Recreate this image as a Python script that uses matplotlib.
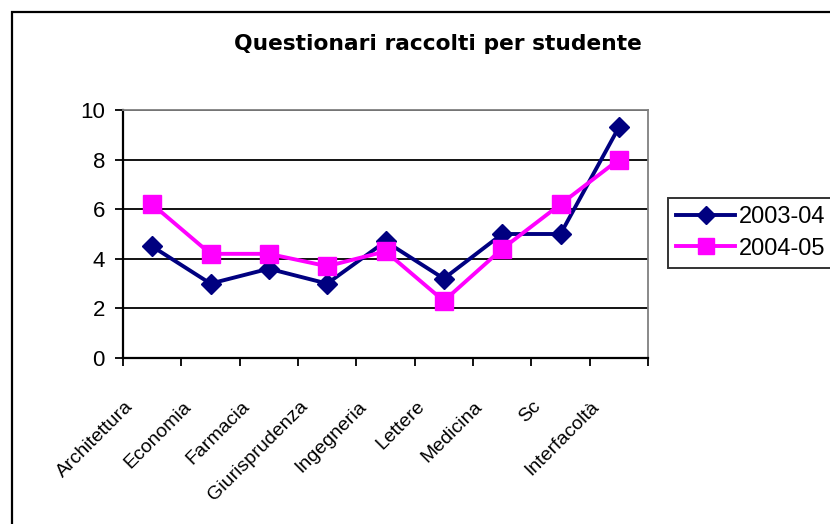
import matplotlib
matplotlib.use("Agg")
import matplotlib.pyplot as plt
import matplotlib.patches as pat
import matplotlib.transforms as mtrans

# data
facolta = ["Architettura", "Economia", "Farmacia", "Giurisprudenza", "Ingegneria",
           "Lettere", "Medicina", "Sc", "Interfacoltà"]
anno_0304 = [4.5, 3.0, 3.6, 3.0, 4.7, 3.2, 5.0, 5.0, 9.3]
anno_0405 = [6.2, 4.2, 4.2, 3.7, 4.3, 2.3, 4.4, 6.2, 8.0]
y_ticks = [0, 2, 4, 6, 8, 10]

plt.rcParams['font.family'] = ['Liberation Sans', 'DejaVu Sans']

fig = plt.figure(figsize=(8.3, 5.24), dpi=100)
ax = fig.add_axes([123/830, 1 - 358/524, 525/830, 248/524])

x = list(range(len(facolta)))
ax.plot(x, anno_0304, color='#000080', lw=2.8, marker='D', ms=10.5, label='2003-04', zorder=3)
ax.plot(x, anno_0405, color='#FF00FF', lw=2.8, marker='s', ms=13.5, label='2004-05', zorder=3)

ax.set_xlim(-0.5, len(facolta) - 0.5)
ax.set_ylim(0, 10)
ax.set_yticks(y_ticks)
ax.yaxis.grid(True, color='black', lw=1.3)
ax.set_axisbelow(True)
ax.tick_params(axis='y', labelsize=16, length=6, width=1.3, direction='out', pad=7)

# category ticks sit between categories, labels near the centres
ax.set_xticks([i - 0.5 for i in range(len(facolta) + 1)])
ax.set_xticklabels([])
ax.tick_params(axis='x', length=6, width=1.3, direction='out')
ax.set_xticks(x, minor=True)
ax.set_xticklabels(facolta, minor=True, rotation=45, ha='right', va='center',
                   rotation_mode='anchor', fontsize=14)
ax.tick_params(axis='x', which='minor', length=0, pad=33)
shift = mtrans.ScaledTranslation(-22/100, 0, fig.dpi_scale_trans)
for lab in ax.get_xticklabels(minor=True):
    lab.set_transform(lab.get_transform() + shift)

for s in ['left', 'bottom']:
    ax.spines[s].set_linewidth(1.6)
    ax.spines[s].set_color('black')
for s in ['top', 'right']:
    ax.spines[s].set_color('#808080')
    ax.spines[s].set_linewidth(1.3)

fig.text(438/830, 1 - 44/524, "Questionari raccolti per studente", ha='center', va='center',
         fontsize=15.7, fontweight='bold', family=['DejaVu Sans'])

leg = fig.legend(loc='upper left', bbox_to_anchor=(668/830, 1 - 198/524), fontsize=17,
                 frameon=True, fancybox=False, edgecolor='black', borderpad=0.35,
                 handlelength=2.5, handletextpad=0.15, labelspacing=0.4, borderaxespad=0,
                 markerscale=0.9)
leg.get_frame().set_linewidth(1.4)

# outer chart border
fig.patches.append(pat.Rectangle((12/830, -0.1), 1.0, 1 - 12/524 + 0.1, transform=fig.transFigure,
                                 fill=False, edgecolor='black', lw=1.6))

fig.savefig("out.png", dpi=100)
